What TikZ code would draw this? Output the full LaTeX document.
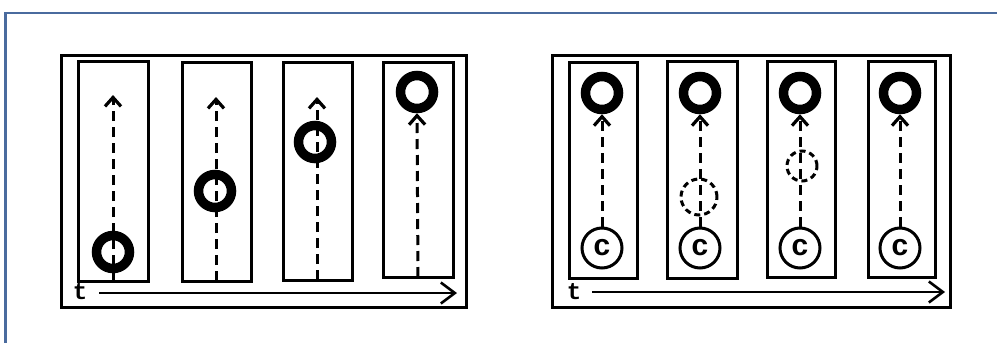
\documentclass[tikz,border=0pt]{standalone}
\usepackage{fontspec}
\setmonofont{Liberation Mono}
\usetikzlibrary{arrows.meta}
\definecolor{frameblue}{HTML}{4A6B9E}
\begin{document}
\begin{tikzpicture}[x=1pt,y=-1pt,
  panel/.style={draw=black,line width=3pt},
  lane/.style={draw=black,line width=3pt},
  ring/.style={circle,draw=black,line width=9.5pt,minimum size=33pt,inner sep=0pt},
  cnode/.style={circle,draw=black,line width=3pt,minimum size=40pt,inner sep=0pt,font=\ttfamily\bfseries\fontsize{30}{30}\selectfont},
  ghost/.style={circle,draw=black,line width=3pt,dash pattern=on 6pt off 4pt,inner sep=0pt},
  track/.style={line width=3pt,dash pattern=on 10pt off 6pt,-{Straight Barb[length=9pt,width=16pt,line width=3.2pt]}},
  timeline/.style={line width=2.6pt,-{Straight Barb[length=14pt,width=21pt,line width=2.6pt]}},
  tlabel/.style={inner sep=0pt,font=\ttfamily\bfseries\fontsize{24}{24}\selectfont}]
\useasboundingbox (0,0) rectangle (997,343);
\fill[white] (0,0) rectangle (997,343);
% blue frame (top and left edges)
\draw[frameblue,line width=2.8pt] (5.5,343) -- (5.5,13) -- (997,13);

% ---------- left panel ----------
\draw[panel] (61,55) rectangle (466,307);
\draw[lane] (78,61) rectangle (148,281);
\draw[lane] (182,62) rectangle (251,281);
\draw[lane] (283,62) rectangle (352,280);
\draw[lane] (383,62) rectangle (453,277);

\coordinate (lb1) at (113,281); \coordinate (lh1) at (113,95);
\coordinate (lb2) at (216,281); \coordinate (lh2) at (216,97);
\coordinate (lb3) at (317,280); \coordinate (lh3) at (317,97);
\coordinate (lb4) at (418,277);

\draw[track] (lb1) -- (lh1);
\draw[track] (lb2) -- (lh2);
\draw[track] (lb3) -- (lh3);

\node[ring] (lr1) at (113,252) {};
\node[ring] (lr2) at (215,191) {};
\node[ring] (lr3) at (315,142) {};
\node[ring] (lr4) at (417,92) {};
\draw[track] (lb4) -- (lr4.south);

\node[tlabel] (lt) at (80,292) {t};
\coordinate (la0) at (99,293); \coordinate (la1) at (457,293);
\draw[timeline] (la0) -- (la1);

% ---------- right panel ----------
\draw[panel] (552,55) rectangle (950,307);
\draw[lane] (569,62) rectangle (637,278);
\draw[lane] (667,61) rectangle (737,278);
\draw[lane] (767,61) rectangle (835,277);
\draw[lane] (868,61) rectangle (935,277);

\node[ring] (rr1) at (602,93) {};
\node[ring] (rr2) at (700,93) {};
\node[ring] (rr3) at (800,93) {};
\node[ring] (rr4) at (900,93) {};

\node[cnode] (c1) at (602,248) {c};
\node[cnode] (c2) at (700,248) {c};
\node[cnode] (c3) at (800,248) {c};
\node[cnode] (c4) at (900,248) {c};

\node[ghost,minimum size=36pt] (g2) at (699,197) {};
\node[ghost,minimum size=30pt] (g3) at (802,166) {};

\draw[track] (c1.north) -- (rr1.south);
\draw[track] (c2.north) -- (rr2.south);
\draw[track] (c3.north) -- (rr3.south);
\draw[track] (c4.north) -- (rr4.south);

\node[tlabel] (rt) at (574,292) {t};
\coordinate (ra0) at (592,292); \coordinate (ra1) at (945,292);
\draw[timeline] (ra0) -- (ra1);
\end{tikzpicture}
\end{document}
